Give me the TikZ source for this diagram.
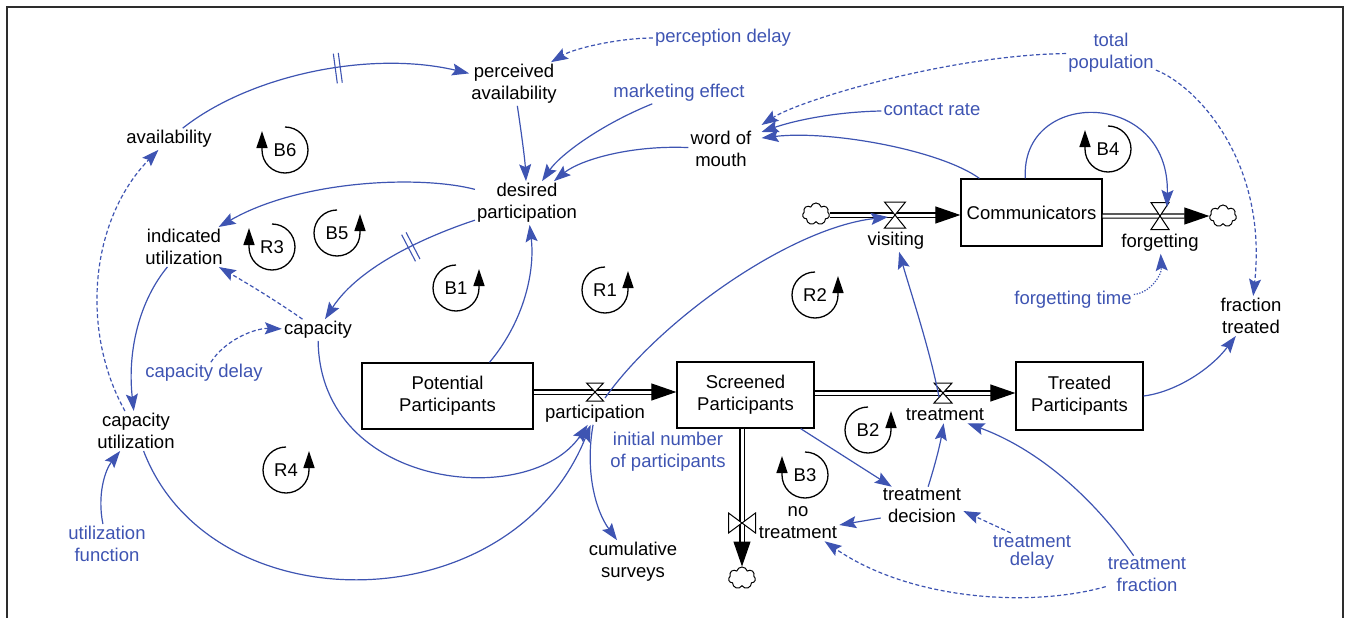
\documentclass[tikz,border=0pt]{standalone}
\usepackage{fontspec}
\setmainfont{Liberation Sans}
\usetikzlibrary{arrows.meta,shapes.symbols,decorations.markings}
\definecolor{vblue}{RGB}{62,84,178}
\definecolor{framec}{RGB}{45,45,45}
\newcommand{\myloopL}[3]{\node[looplbl] (#3) at (#1,#2) {#3};
  \begin{scope}[shift={(#1,#2)}, yscale=-1]
  \draw[loopline] (90:23) arc[start angle=90, end angle=-180, radius=23] -- ++(0,19);
  \end{scope}}
\newcommand{\myloopR}[3]{\node[looplbl] (#3) at (#1,#2) {#3};
  \begin{scope}[shift={(#1,#2)}, yscale=-1]
  \draw[loopline] (90:23) arc[start angle=90, end angle=360, radius=23] -- ++(0,19);
  \end{scope}}
\newcommand{\hvalve}[3]{\draw[valve] ([shift={(-#2/2,-#3/2)}]#1) -- ([shift={(#2/2,-#3/2)}]#1) -- ([shift={(-#2/2,#3/2)}]#1) -- ([shift={(#2/2,#3/2)}]#1) -- cycle;}
\newcommand{\vvalve}[3]{\draw[valve] ([shift={(-#2/2,-#3/2)}]#1) -- ([shift={(-#2/2,#3/2)}]#1) -- ([shift={(#2/2,-#3/2)}]#1) -- ([shift={(#2/2,#3/2)}]#1) -- cycle;}
\begin{document}
\begin{tikzpicture}[x=1pt,y=-1pt,
  lbl/.style={font=\fontsize{18.5}{22}\selectfont, align=center, inner sep=2pt, text=black},
  aux/.style={lbl, text=vblue},
  stock/.style={draw, line width=1.3pt, font=\fontsize{18.5}{22}\selectfont, align=center, inner sep=0pt},
  link/.style={draw=vblue, line width=1.2pt, -{Stealth[length=17pt,width=12pt,inset=3pt]}},
  dlink/.style={link, dash pattern=on 4pt off 2.5pt},
  olink/.style={link, dash pattern=on 1.3pt off 1.5pt},
  pipe/.style={draw=black, line width=1.1pt, double=white, double distance=3pt, -{Triangle[length=25pt,width=17pt]}},
  valve/.style={draw=black, fill=white, line width=1pt},
  cloudn/.style={cloud, cloud puffs=7, aspect=1.25, draw, line width=1pt, minimum width=27pt, minimum height=22pt, inner sep=0pt},
  loopline/.style={draw=black, line width=1.3pt, -{Triangle[length=17pt,width=11pt]}},
  looplbl/.style={font=\fontsize{18.5}{22}\selectfont, inner sep=0pt},
  delaymark/.style={postaction={decorate}, decoration={markings, mark=at position #1 with {\draw[vblue, solid, line width=1.1pt, -] (-2.5pt,-15pt) -- (-2.5pt,15pt) (2.5pt,-15pt) -- (2.5pt,15pt);}}}
]
\useasboundingbox (0,0) rectangle (1350,618);
\draw[draw=framec, line width=1.6pt] (7,618) -- (7,7) -- (1343,7) -- (1343,618);

% stocks
\node[stock, minimum width=171pt, minimum height=66pt] (pp) at (447.5,396) {Potential\\Participants};
\node[stock, minimum width=137pt, minimum height=66pt] (sp) at (745.5,395) {Screened\\Participants};
\node[stock, minimum width=127pt, minimum height=68pt] (trp) at (1079.5,396) {Treated\\Participants};
\node[stock, minimum width=141pt, minimum height=67pt] (comm) at (1031.5,212.5) {Communicators};

% clouds
\node[cloudn] (c1) at (816,214) {};
\node[cloudn] (c2) at (1223,216) {};
\node[cloudn] (c3) at (742,578) {};

% valve coordinates
\coordinate (vPart) at (595,392);
\coordinate (vTreat) at (943,393);
\coordinate (vVisit) at (895,215);
\coordinate (vForget) at (1160,216);
\coordinate (vNo) at (742,523);

% pipes
\draw[pipe] (pp.east |- vPart) -- (sp.west |- vPart);
\draw[pipe] (sp.east |- vTreat) -- (trp.west |- vTreat);
\draw[pipe] (c1.east |- vVisit) -- (comm.west |- vVisit);
\draw[pipe] (comm.east |- vForget) -- (c2.west);
\draw[pipe] (sp.south -| vNo) -- (c3.north);

\hvalve{vPart}{17}{18}
\hvalve{vTreat}{18}{20}
\hvalve{vVisit}{21}{26}
\hvalve{vForget}{18}{27}
\vvalve{vNo}{27}{20}

% black variables
\node[lbl] (part) at (595,414) {participation};
\node[lbl] (treat) at (945,415) {treatment};
\node[lbl] (visit) at (896,241) {visiting};
\node[lbl] (forg) at (1160,243) {forgetting};
\node[lbl] (nt) at (798,523) {no\\treatment};
\node[lbl] (perc) at (514,84) {perceived\\availability};
\node[lbl] (avail) at (169,139) {availability};
\node[lbl] (des) at (527,203) {desired\\participation};
\node[lbl] (wom) at (721,149) {word of\\mouth};
\node[lbl] (ind) at (184,247) {indicated\\utilization};
\node[lbl] (cap) at (318,330) {capacity};
\node[lbl] (capu) at (136,431) {capacity\\utilization};
\node[lbl] (cs) at (633,562) {cumulative\\surveys};
\node[lbl] (td) at (922,506) {treatment\\decision};
\node[lbl] (ft) at (1251,316) {fraction\\treated};

% blue auxiliaries
\node[aux] (pd) at (723,38) {perception delay};
\node[aux] (me) at (679,93) {marketing effect};
\node[aux] (cr) at (932,110) {contact rate};
\node[aux] (totpop) at (1111,53) {total\\population};
\node[aux] (ftime) at (1073,300) {forgetting time};
\node[aux] (cd) at (204,373) {capacity delay};
\node[aux] (uf) at (107,544) {utilization\\function};
\node[aux] (inp) at (668,452) {initial number\\of participants};
\node[aux, font=\fontsize{18.5}{18}\selectfont] (tdl) at (1032,552) {treatment\\delay};
\node[aux] (tf) at (1147,575) {treatment\\fraction};

% loops
\myloopL{285}{150}{B6}
\myloopL{272}{247}{R3}
\myloopR{337}{233}{B5}
\myloopR{456}{288}{B1}
\myloopR{605}{290}{R1}
\myloopR{815}{295}{R2}
\myloopL{1108}{149}{B4}
\myloopR{868}{430}{B2}
\myloopL{805}{475}{B3}
\myloopR{286}{470}{R4}

% links
\draw[link, delaymark=0.56] (avail) .. controls (250,75) and (370,50) .. (perc);
\draw[dlink] (pd) .. controls (620,38) and (575,48) .. (perc);
\draw[link] (perc) .. controls (521,130) and (525,160) .. (des);
\draw[link] (me) .. controls (600,125) and (560,155) .. (des);
\draw[link] (wom) .. controls (630,145) and (580,160) .. (des);
\draw[dlink] (totpop) .. controls (950,55) and (800,100) .. ([shift={(8,-24)}]wom.east);
\draw[link] (cr) .. controls (830,112) and (790,122) .. ([shift={(8,-17)}]wom.east);
\draw[link] ([xshift=19pt]comm.north west) .. controls (940,150) and (830,130) .. ([shift={(8,-11)}]wom.east);
\draw[link] ([xshift=65pt]comm.north west) .. controls (1020,88) and (1170,88) .. ([shift={(7,-9)}]vForget);
\draw[dlink] (totpop) .. controls (1195,85) and (1268,160) .. (ft);
\draw[olink] (ftime) .. controls (1150,293) and (1162,275) .. (forg);
\draw[link] (des) .. controls (420,175) and (300,180) .. (ind);
\draw[link, delaymark=0.38] (des) .. controls (430,235) and (360,265) .. (cap);
\draw[dlink] (cap) .. controls (275,300) and (245,282) .. (ind);
\draw[link] (ind) .. controls (140,300) and (127,350) .. (capu);
\draw[dlink] (capu) .. controls (80,330) and (90,220) .. (avail);
\draw[dlink] (cd) .. controls (225,340) and (255,328) .. (cap);
\draw[link] (cap) .. controls (320,490) and (530,510) .. (part);
\draw[link] (capu) .. controls (210,625) and (510,625) .. (part);
\draw[link] (uf) .. controls (97,495) and (105,470) .. (capu);
\draw[link] ([xshift=42pt]pp.north) .. controls (525,320) and (535,270) .. (des);
\draw[link] ([shift={(10,6)}]vPart) .. controls (660,320) and (790,228) .. ([shift={(-7,2)}]vVisit);
\draw[link] (part) .. controls (585,470) and (595,510) .. (cs);
\draw[link] ([xshift=-14pt]sp.south east) -- (td);
\draw[link] (td) .. controls (935,465) and (940,445) .. (treat);
\draw[link] ([yshift=-12pt]td.west) -- ([yshift=-2pt]nt.east);
\draw[dlink] ([xshift=20pt]tdl.north west) -- ([yshift=-5pt]td.east);
\draw[link] (tf) .. controls (1095,500) and (1040,450) .. (treat);
\draw[dlink] (tf) .. controls (1030,608) and (910,600) .. (nt);
\draw[link] ([shift={(-4,4)}]vTreat) .. controls (930,350) and (910,290) .. (visit);
\draw[link] (trp.east) .. controls (1175,392) and (1210,370) .. (ft);
\end{tikzpicture}
\end{document}
